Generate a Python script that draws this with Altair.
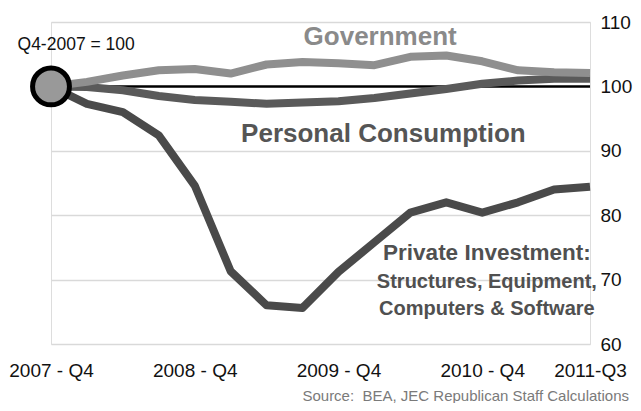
import altair as alt
import pandas as pd

# ---- data ----
quarters = ["2007-Q4", "2008-Q1", "2008-Q2", "2008-Q3", "2008-Q4", "2009-Q1", "2009-Q2", "2009-Q3",
            "2009-Q4", "2010-Q1", "2010-Q2", "2010-Q3", "2010-Q4", "2011-Q1", "2011-Q2", "2011-Q3"]
government = [100, 100.7, 101.7, 102.5, 102.7, 102.0, 103.4, 103.8,
              103.6, 103.3, 104.6, 104.8, 103.9, 102.5, 102.2, 102.1]
consumption = [100, 99.9, 99.4, 98.5, 97.9, 97.6, 97.3, 97.5,
               97.7, 98.2, 98.9, 99.6, 100.4, 100.9, 101.2, 101.2]
investment = [100, 97.3, 96.0, 92.4, 84.6, 71.3, 66.0, 65.6,
              71.2, 75.8, 80.4, 82.0, 80.4, 82.0, 84.0, 84.4]

tick_positions = [0, 4, 8, 12, 15]
tick_labels = ["2007 - Q4", "2008 - Q4", "2009 - Q4", "2010 - Q4", "2011-Q3"]
y_ticks = [60, 70, 80, 90, 100, 110]
base_value = 100
source_text = "Source:\u00a0 BEA, JEC Republican Staff Calculations"

FONT = "Liberation Sans"

idx = list(range(len(quarters)))
df = pd.DataFrame({
    "i": idx * 3,
    "v": government + consumption + investment,
    "series": ["Government"] * 16 + ["Personal Consumption"] * 16 + ["Private Investment"] * 16,
})

label_arr = [""] * len(quarters)
for p, l in zip(tick_positions, tick_labels):
    label_arr[p] = l
label_expr = "[" + ",".join("'" + s + "'" for s in label_arr) + "][datum.value]"

xs = alt.X("i:Q", scale=alt.Scale(domain=[0, 15], nice=False, zero=False),
           axis=alt.Axis(values=tick_positions, labelExpr=label_expr, grid=False, domain=False,
                         ticks=False, labelFontSize=19, labelPadding=17, labelColor="#111",
                         labelFont=FONT, title=None, labelOverlap=False, labelFlush=False))
ys = alt.Y("v:Q", scale=alt.Scale(domain=[60, 110], nice=False, zero=False),
           axis=alt.Axis(orient="right", values=y_ticks, grid=True, gridColor="#d9d9d9", gridWidth=1.5,
                         domain=False, ticks=False, labelFontSize=19, labelPadding=10,
                         labelColor="#111", labelFont=FONT, title=None))

rule_df = pd.DataFrame({"i": [0], "i2": [15], "v": [base_value]})
rule = alt.Chart(rule_df).mark_rule(color="black", strokeWidth=2.5).encode(
    x=xs, x2="i2:Q", y=alt.Y("v:Q"))


def line(name, color):
    return alt.Chart(df).transform_filter(alt.datum.series == name).mark_line(
        color=color, strokeWidth=8, strokeJoin="round", strokeCap="butt").encode(x=xs, y=ys)


inv_line = line("Private Investment", "#4a4a4a")
con_line = line("Personal Consumption", "#5a5a5a")
gov_line = line("Government", "#8f8f8f")

circle_df = pd.DataFrame({"i": [0], "v": [base_value]})
circle = alt.Chart(circle_df).mark_circle(size=1360, fill="#999999", stroke="black",
                                          strokeWidth=5, opacity=1, fillOpacity=1).encode(
    x="i:Q", y="v:Q")

ann_text = ["Q4-2007 = 100", "Government", "Personal Consumption", "Private Investment:",
            "Structures, Equipment,", "Computers & Software"]
ann_i = [0.70, 9.16, 9.25, 12.13, 12.13, 12.13]
ann_v = [105.65, 106.43, 91.41, 73.04, 68.65, 64.5]
ann_size = [17.5, 26, 26, 22.5, 20, 20]
ann_color = ["#111111", "#8a8a8a", "#555555", "#505050", "#505050", "#505050"]
ann_weight = ["normal", "bold", "bold", "bold", "bold", "bold"]

texts = []
for t, i, v, s, c, w in zip(ann_text, ann_i, ann_v, ann_size, ann_color, ann_weight):
    tdf = pd.DataFrame({"i": [i], "v": [v], "t": [t]})
    texts.append(alt.Chart(tdf).mark_text(fontSize=s, color=c, fontWeight=w, font=FONT,
                                          align="center", baseline="alphabetic").encode(
        x="i:Q", y="v:Q", text="t:N"))

chart = alt.layer(rule, inv_line, con_line, gov_line, circle, *texts).properties(
    width=539, height=322,
    padding={"left": 43, "top": 14, "right": 43, "bottom": 59},
    autosize=alt.AutoSizeParams(type="none"),
    title=alt.TitleParams(source_text, orient="bottom", anchor="end", frame="group", fontSize=15,
                          fontWeight="normal", color="#7a7a7a", font=FONT, dx=39, offset=21,
                          baseline="alphabetic"),
).configure_view(stroke=None).configure(background="white")

chart.save("out.html", embed_options={"renderer": "svg", "actions": False})
